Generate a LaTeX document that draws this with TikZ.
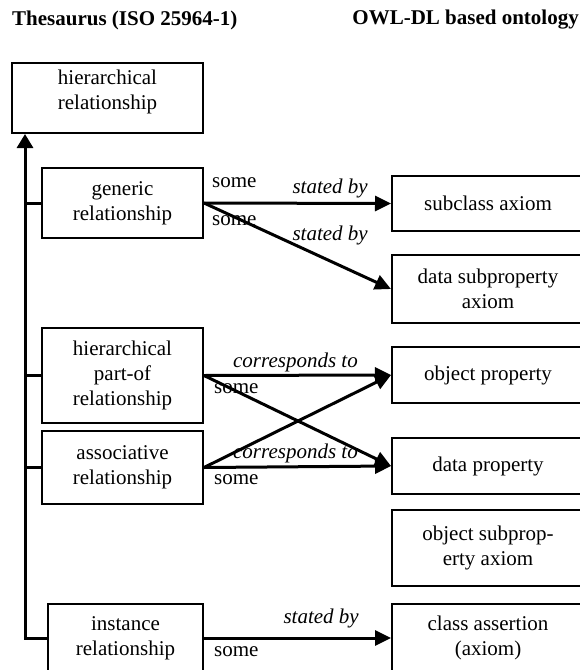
\documentclass[tikz,border=0pt]{standalone}
\usepackage{fontspec}
\setmainfont{Liberation Serif}
\usetikzlibrary{arrows.meta}
\begin{document}
\begin{tikzpicture}[x=1bp,y=-1bp,
  every node/.style={font=\fontsize{21bp}{25bp}\selectfont, inner sep=0pt},
  box/.style={draw, line width=2bp, align=center},
  txt/.style={align=center},
  itlab/.style={font=\fontsize{21bp}{25bp}\selectfont\itshape},
  conn/.style={line width=3bp, -{Triangle[length=16bp,width=15bp]}},
  tree/.style={line width=3bp}
]
\useasboundingbox (0,0) rectangle (580,670);
\clip (0,0) rectangle (580,670);

% titles
\node[anchor=west, font=\fontsize{21bp}{25bp}\selectfont\bfseries] (t1) at (12,20) {Thesaurus (ISO 25964-1)};
\node[anchor=east, font=\fontsize{21bp}{25bp}\selectfont\bfseries] (t2) at (579,20) {OWL-DL based ontology};

% left boxes
\node[box, minimum width=191bp, minimum height=70bp] (top) at (107.5,98) {};
\node[txt] (toptext) at (107.5,92) {hierarchical\\relationship};
\node[box, minimum width=161bp, minimum height=70bp] (gen) at (122.5,203) {generic\\relationship};
\node[box, minimum width=161bp, minimum height=95bp] (part) at (122.5,375.5) {hierarchical\\part-of\\relationship};
\node[box, minimum width=161bp, minimum height=73bp] (assoc) at (122.5,467.5) {associative\\relationship};
\node[box, minimum width=155bp, minimum height=68bp] (inst) at (125.5,638) {instance\\relationship};

% right boxes
\node[box, minimum width=192bp, minimum height=55bp] (subcl) at (488,203.5) {subclass axiom};
\node[box, minimum width=192bp, minimum height=68bp] (dsub) at (488,289) {data subproperty\\axiom};
\node[box, minimum width=192bp, minimum height=56bp] (oprop) at (488,375) {object property};
\node[box, minimum width=192bp, minimum height=56bp] (dprop) at (488,466) {data property};
\node[box, minimum width=192bp, minimum height=76bp] (osub) at (488,548) {object subprop-\\erty axiom};
\node[box, minimum width=192bp, minimum height=68bp] (cass) at (488,638) {class assertion\\(axiom)};

% tree
\coordinate (spine) at (25,134);
\draw[tree, -{Triangle[length=14bp,width=16bp]}] (inst.west) -| (spine);
\draw[tree] (gen.west) -- (gen.west -| spine);
\draw[tree] (part.west) -- (part.west -| spine);
\draw[tree] (assoc.west) -- (assoc.west -| spine);

% connectors
\draw[conn] (gen.east) -- (subcl.west);
\draw[conn] (gen.east) -- (dsub.west);
\draw[conn] (part.east) -- (oprop.west);
\draw[conn] (part.east) -- (dprop.west);
\draw[conn] (assoc.east) -- (oprop.west);
\draw[conn] (assoc.east) -- (dprop.west);
\draw[conn] (inst.east) -- (cass.west);

% labels
\node[anchor=west] (s1) at (212,183) {some};
\node[itlab, anchor=east] (b1) at (368,188) {stated by};
\node[anchor=west] (s2) at (212,221) {some};
\node[itlab, anchor=east] (b2) at (368,235) {stated by};
\node[itlab, anchor=east] (c1) at (358,362) {corresponds to};
\node[anchor=west] (s3) at (214,389) {some};
\node[itlab, anchor=east] (c2) at (358,453) {corresponds to};
\node[anchor=west] (s4) at (214,480) {some};
\node[itlab, anchor=east] (b3) at (359,618) {stated by};
\node[anchor=west] (s5) at (214,652) {some};
\end{tikzpicture}
\end{document}
